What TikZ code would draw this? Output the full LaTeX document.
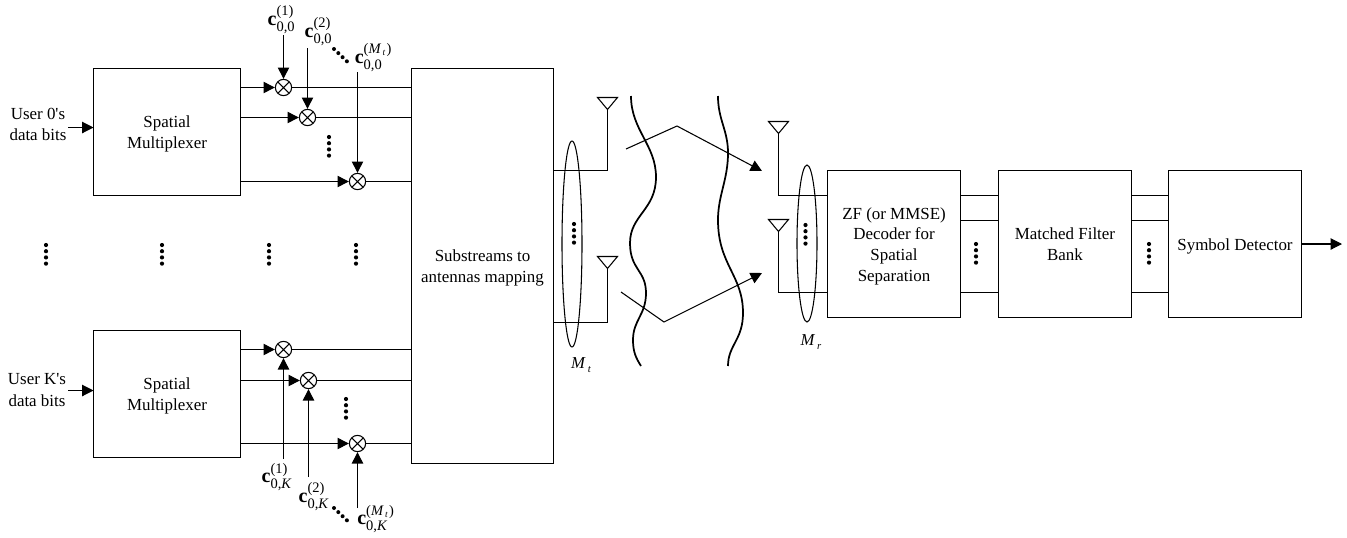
\documentclass[tikz,border=0pt]{standalone}
\usepackage{amsmath}
\usepackage{fontspec}
\setmainfont{Liberation Serif}
\newfontfamily\plainf{Liberation Serif}
\usetikzlibrary{arrows.meta,shapes.geometric}
\newcommand{\cvec}[2]{$\text{\fontsize{15}{15}\selectfont\textbf{c}}^{\text{#2}}_{\text{#1}}$}
\newcommand{\vdotsrow}[2]{\foreach \k in {0,1,2,3} \fill (#1,#2+\k*6.2) circle (2.1);}
\newcommand{\ddotsrow}[2]{\foreach \k in {0,1,2,3} \fill (#1+\k*4.3,#2+\k*4.1) circle (2.0);}
\newcommand{\antenna}[2]{\draw[wire] (#1-10,#2) -- (#1+10,#2) -- (#1,#2+12) -- cycle;}
\newcommand{\sq}{{\plainf\char39 }}
\newcommand{\Mtx}{(\textit{M}\kern1pt{\fontsize{7}{7}\selectfont\raisebox{-1.5pt}{\textit{t}}}\kern1pt)}
\newcommand{\lines}[1]{\raisebox{-1.5pt}[\height][\depth]{\begin{tabular}{@{}c@{}}#1\end{tabular}}}
\tikzset{
  wire/.style={draw=black,line width=0.8pt},
  arr/.style={wire,-{Triangle[length=8.5pt,width=8.5pt]}},
  blockbox/.style={draw=black,line width=0.8pt,align=center,inner sep=0pt,outer sep=0pt,
     font=\fontsize{12.7}{15.5}\selectfont},
  mult/.style={circle,draw=black,line width=0.8pt,minimum size=12.2pt,inner sep=0pt,
     path picture={\draw[line width=0.8pt] (path picture bounding box.north west) -- (path picture bounding box.south east)
       (path picture bounding box.north east) -- (path picture bounding box.south west);}},
  txt/.style={inner sep=0pt,align=center,font=\fontsize{12.7}{15.8}\selectfont},
  code/.style={inner sep=0pt,font=\fontsize{15.5}{17}\selectfont},
  wave/.style={draw=black,line width=1.3pt},
  bundle/.style={ellipse,draw=black,line width=0.8pt,inner sep=0pt},
  lab/.style={inner sep=0pt,font=\fontsize{12.5}{14}\selectfont\itshape},
}
\begin{document}
\begin{tikzpicture}[x=0.75pt,y=-0.75pt]
\useasboundingbox (0,0) rectangle (1347,537);
% blocks
\node[blockbox,minimum width=110.25pt,minimum height=95.25pt] (sm0) at (167,132) {\lines{Spatial\\Multiplexer}};
\node[blockbox,minimum width=110.25pt,minimum height=95.25pt] (smK) at (167,394) {\lines{Spatial\\Multiplexer}};
\node[blockbox,minimum width=106.5pt,minimum height=296.25pt] (map) at (482.5,266) {\lines{Substreams to\\antennas mapping}};
\node[blockbox,minimum width=99.75pt,minimum height=110.25pt] (zf) at (894,244) {\lines{ZF (or MMSE)\\Decoder for\\Spatial\\Separation}};
\node[blockbox,minimum width=99.75pt,minimum height=110.25pt] (mf) at (1065,244) {\lines{Matched Filter\\Bank}};
\node[blockbox,minimum width=99.75pt,minimum height=110.25pt] (sd) at (1235,244) {\lines{Symbol Detector}};
% user inputs
\node[txt] (u0) at (38,124) {User 0\sq s\\data bits};
\node[txt] (uK) at (37,390) {User K\sq s\\data bits};
\coordinate (u0t) at (68,127.5);
\coordinate (uKt) at (68,390.5);
\draw[arr] (u0t) -- (u0t -| sm0.west);
\draw[arr] (uKt) -- (uKt -| smK.west);
% multipliers
\node[mult] (a1) at (283.5,87.5) {};
\node[mult] (a2) at (307.5,117.5) {};
\node[mult] (a3) at (357.5,181.5) {};
\node[mult] (b1) at (283.5,349.5) {};
\node[mult] (b2) at (308.5,380.5) {};
\node[mult] (b3) at (357.5,443.5) {};
\foreach \m/\s in {a1/sm0,a2/sm0,a3/sm0,b1/smK,b2/smK,b3/smK}{
  \draw[arr] (\m -| \s.east) -- (\m);
  \draw[wire] (\m) -- (\m -| map.west);
}
% code labels
\node[code] (c1) at (281.5,19.5) {\cvec{0,0}{(1)}};
\node[code] (c2) at (318.5,31.5) {\cvec{0,0}{(2)}};
\node[code] (c3) at (373.5,57.5) {\cvec{0,0}{\Mtx}};
\node[code] (d1) at (277,477) {\cvec{0,\textit{K}}{(1)}};
\node[code] (d2) at (314,496.5) {\cvec{0,\textit{K}}{(2)}};
\node[code] (d3) at (376,519) {\cvec{0,\textit{K}}{\Mtx}};
\coordinate (t1) at (283.5,35);
\coordinate (t2) at (307.5,48);
\coordinate (t3) at (357.5,72);
\coordinate (e1) at (283.5,459);
\coordinate (e2) at (308.5,477);
\coordinate (e3) at (357.5,508);
\draw[arr] (t1) -- (a1);
\draw[arr] (t2) -- (a2);
\draw[arr] (t3) -- (a3);
\draw[arr] (e1) -- (b1);
\draw[arr] (e2) -- (b2);
\draw[arr] (e3) -- (b3);
% dots
\ddotsrow{334}{49}
\ddotsrow{334}{508}
\vdotsrow{329}{137}
\vdotsrow{346}{399}
\foreach \x in {46,162,269,356}{\vdotsrow{\x}{245}}
\vdotsrow{976}{244}
\vdotsrow{1149}{244}
\vdotsrow{574}{224}
\vdotsrow{805.5}{225}
% transmit antennas
\antenna{607.5}{97.5}
\antenna{607.5}{256.5}
\coordinate (ta1) at (607.5,109);
\coordinate (ta2) at (607.5,268);
\coordinate (tb1) at (553.5,170.5);
\coordinate (tb2) at (553.5,322.5);
\draw[wire] (ta1) |- (tb1);
\draw[wire] (ta2) |- (tb2);
\node[bundle,minimum width=15pt,minimum height=154.5pt] (et) at (572,244) {};
\node[lab] (mt) at (581,365) {M\kern2pt\raisebox{-3pt}{\fontsize{8}{8}\selectfont t}};
% channel
\draw[wave] (631,96) .. controls (631,130) and (656,145) .. (656,177) .. controls (656,210) and (630,215) .. (630,243) .. controls (630,270) and (646,270) .. (646,293) .. controls (646,315) and (633,320) .. (633,340) .. controls (633,352) and (636,358) .. (641,366);
\draw[wave] (718,96) .. controls (718,120) and (728,130) .. (728,153) .. controls (728,180) and (718,195) .. (718,220) .. controls (718,265) and (743,275) .. (743,313) .. controls (743,340) and (728,345) .. (728,366);
\coordinate (p1) at (626,149);
\coordinate (p2) at (677,126);
\coordinate (p3) at (762,171);
\coordinate (q1) at (621,292);
\coordinate (q2) at (664,322);
\coordinate (q3) at (762,273);
\draw[arr] (p1) -- (p2) -- (p3);
\draw[arr] (q1) -- (q2) -- (q3);
% receive antennas
\antenna{778.5}{121.5}
\antenna{778.5}{219.5}
\coordinate (ra1) at (778.5,133);
\coordinate (ra2) at (778.5,231);
\draw[wire] (ra1) |- (zf.west |- 0,195.5);
\draw[wire] (ra2) |- (zf.west |- 0,292.5);
\node[bundle,minimum width=15pt,minimum height=117.75pt] (er) at (807,243.5) {};
\node[lab] (mr) at (811,342) {M\kern2pt\raisebox{-3pt}{\fontsize{8}{8}\selectfont r}};
% links between blocks
\foreach \y in {195.5,220.5,292.5}{
  \draw[wire] (zf.east |- 0,\y) -- (mf.west |- 0,\y);
  \draw[wire] (mf.east |- 0,\y) -- (sd.west |- 0,\y);
}
\coordinate (out) at (1342,244);
\draw[arr] (sd.east) -- (out);
\end{tikzpicture}
\end{document}
